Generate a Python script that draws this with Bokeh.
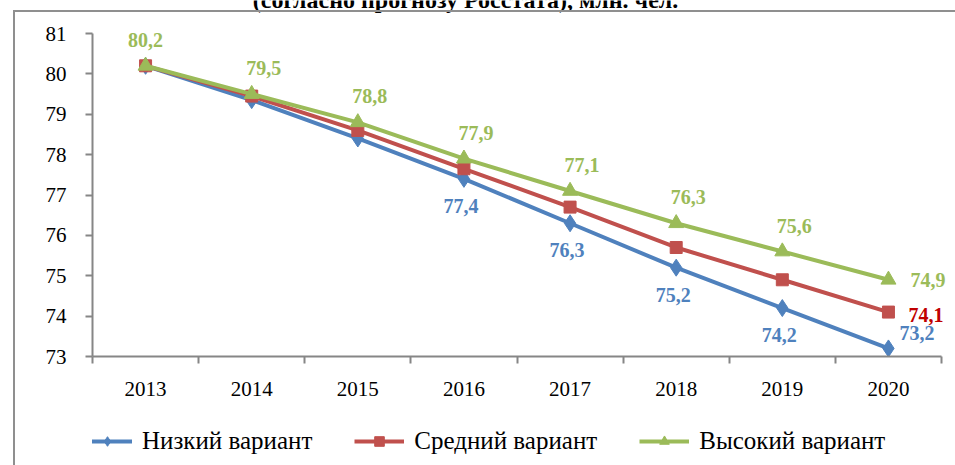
from bokeh.plotting import figure
from bokeh.layouts import column
from bokeh.models import (Range1d, FixedTicker, ColumnDataSource, Legend, LegendItem,
                          Label, InlineStyleSheet)
from bokeh.core.properties import value
from bokeh.embed import file_html
from bokeh.resources import INLINE

# ---- data ----
years = ["2013", "2014", "2015", "2016", "2017", "2018", "2019", "2020"]
low = [80.2, 79.35, 78.4, 77.4, 76.3, 75.2, 74.2, 73.2]
mid = [80.2, 79.45, 78.6, 77.65, 76.7, 75.7, 74.9, 74.1]
high = [80.2, 79.5, 78.8, 77.9, 77.1, 76.3, 75.6, 74.9]
series_names = ["Низкий вариант", "Средний вариант", "Высокий вариант"]
title_text = "(согласно прогнозу Росстата), млн. чел."
y_ticks = [73, 74, 75, 76, 77, 78, 79, 80, 81]

FONT = "Liberation Serif"
BLUE, RED, GREEN = "#4F81BD", "#C0504D", "#9BBB59"
AXIS = "#868686"

W = 955
H_MAIN, H_LEG = 410, 55
n = len(years)
xs = list(range(n))

# plot-area geometry (pixels on the canvas)
FRAME_LEFT, AXIS_RIGHT, Y_TOP, Y_BOTTOM = 92, 941, 33, 356
px_per_x = (AXIS_RIGHT - FRAME_LEFT) / n
px_per_y = (Y_BOTTOM - Y_TOP) / (y_ticks[-1] - y_ticks[0])
x_end = (n - 0.5) + (W - AXIS_RIGHT) / px_per_x
y_end = y_ticks[-1] + Y_TOP / px_per_y

border_css = InlineStyleSheet(css="""
:host::after {
  content: "";
  position: absolute;
  left: 13px; top: 10px; right: -20px; bottom: -20px;
  border: 2px solid #8f8f8f;
  pointer-events: none;
}
""")

p = figure(width=W, height=H_MAIN, output_backend="svg", toolbar_location=None,
           x_range=Range1d(-0.5, x_end), y_range=Range1d(y_ticks[0], y_end),
           min_border_left=FRAME_LEFT, min_border_right=0, min_border_top=0,
           min_border_bottom=H_MAIN - Y_BOTTOM)
p.outline_line_color = None
p.xgrid.visible = False
p.ygrid.visible = False

# axes
p.xaxis.bounds = (-0.5, n - 0.5)
p.xaxis.ticker = FixedTicker(ticks=xs, minor_ticks=[i - 0.5 for i in range(n + 1)])
p.xaxis.major_label_overrides = {i: y for i, y in enumerate(years)}
p.xaxis.major_tick_out = 0
p.xaxis.major_tick_in = 0
p.xaxis.minor_tick_out = 7
p.xaxis.minor_tick_in = 0
p.xaxis.minor_tick_line_color = AXIS
p.xaxis.minor_tick_line_width = 2
p.xaxis.axis_line_color = AXIS
p.xaxis.axis_line_width = 2
p.xaxis.major_label_text_font = FONT
p.xaxis.major_label_text_font_size = "21px"
p.xaxis.major_label_text_color = "black"
p.xaxis.major_label_standoff = 18

p.yaxis.bounds = (y_ticks[0], y_ticks[-1])
p.yaxis.ticker = FixedTicker(ticks=y_ticks, minor_ticks=[])
p.yaxis.major_tick_out = 7
p.yaxis.major_tick_in = 0
p.yaxis.major_tick_line_color = AXIS
p.yaxis.major_tick_line_width = 2
p.yaxis.axis_line_color = AXIS
p.yaxis.axis_line_width = 2
p.yaxis.major_label_text_font = FONT
p.yaxis.major_label_text_font_size = "21px"
p.yaxis.major_label_text_color = "black"
p.yaxis.major_label_standoff = 19

# series
specs = [(low, BLUE, "diamond", 17), (mid, RED, "square", 12), (high, GREEN, "triangle", 15)]
for vals, color, marker, size in specs:
    src = ColumnDataSource(dict(x=xs, y=vals))
    p.line("x", "y", source=src, line_color=color, line_width=4)
    p.scatter("x", "y", source=src, marker=marker, size=size,
              fill_color=color, line_color=color)

# data labels
def fmt(v):
    return ("%.1f" % v).replace(".", ",")

lx, ly, lt, lc, lxo, lyo, la = [], [], [], [], [], [], []
for i, v in enumerate(high):
    lx.append(i); ly.append(v); lt.append(fmt(v)); lc.append(GREEN)
    if i == n - 1:
        lxo.append(22); lyo.append(0); la.append("left")
    else:
        lxo.append(0 if i == 0 else 12); lyo.append(-26); la.append("center")
for i, v in enumerate(low):
    if i < 3:
        continue
    lx.append(i); ly.append(v); lt.append(fmt(v)); lc.append(BLUE)
    if i == n - 1:
        lxo.append(11); lyo.append(-15); la.append("left")
    else:
        lxo.append(-3); lyo.append(27); la.append("center")
lx.append(n - 1); ly.append(mid[-1]); lt.append(fmt(mid[-1])); lc.append("#C00000")
lxo.append(20); lyo.append(3); la.append("left")

lsrc = ColumnDataSource(dict(x=lx, y=ly, t=lt, c=lc, xo=lxo, yo=lyo, a=la))
p.text("x", "y", text="t", source=lsrc, text_color="c", x_offset="xo", y_offset="yo",
       text_align="a", text_baseline="middle", text_font=value(FONT),
       text_font_size="20px", text_font_style="bold")

# title (cut off at the top of the picture)
p.add_layout(Label(x=465 - FRAME_LEFT, y=Y_BOTTOM + 1, x_units="screen", y_units="screen",
                   text=title_text, text_font=FONT, text_font_size="24px",
                   text_font_style="bold", text_align="center",
                   text_baseline="alphabetic", text_color="black"))

# legend in its own strip below the chart (series drawn out of view, only the key shows)
lg = figure(width=W, height=H_LEG, output_backend="svg", toolbar_location=None,
            x_range=Range1d(100, 101), y_range=Range1d(0, 1),
            x_axis_location=None, y_axis_location=None,
            min_border_left=0, min_border_right=0, min_border_top=0, min_border_bottom=0)
lg.grid.visible = False
lg.outline_line_color = None
items = []
for name, (vals, color, marker, size) in zip(series_names, specs):
    src = ColumnDataSource(dict(x=xs, y=vals))
    r1 = lg.line("x", "y", source=src, line_color=color, line_width=4)
    r2 = lg.scatter("x", "y", source=src, marker=marker, size=size - 3,
                    fill_color=color, line_color=color)
    items.append(LegendItem(label=name, renderers=[r1, r2]))
# the strip's plot area is aligned with the chart's (starts at x = FRAME_LEFT)
legend = Legend(items=items, orientation="horizontal", location=(82 - FRAME_LEFT, 10),
                label_text_font=FONT, label_text_font_size="25px",
                label_text_color="black", glyph_width=50, glyph_height=24,
                label_standoff=10, spacing=42, border_line_color=None,
                background_fill_alpha=0, padding=4, margin=0)
lg.add_layout(legend, "center")

layout = column(p, lg, spacing=0, stylesheets=[border_css])
open("out.html", "w").write(file_html(layout, INLINE))
